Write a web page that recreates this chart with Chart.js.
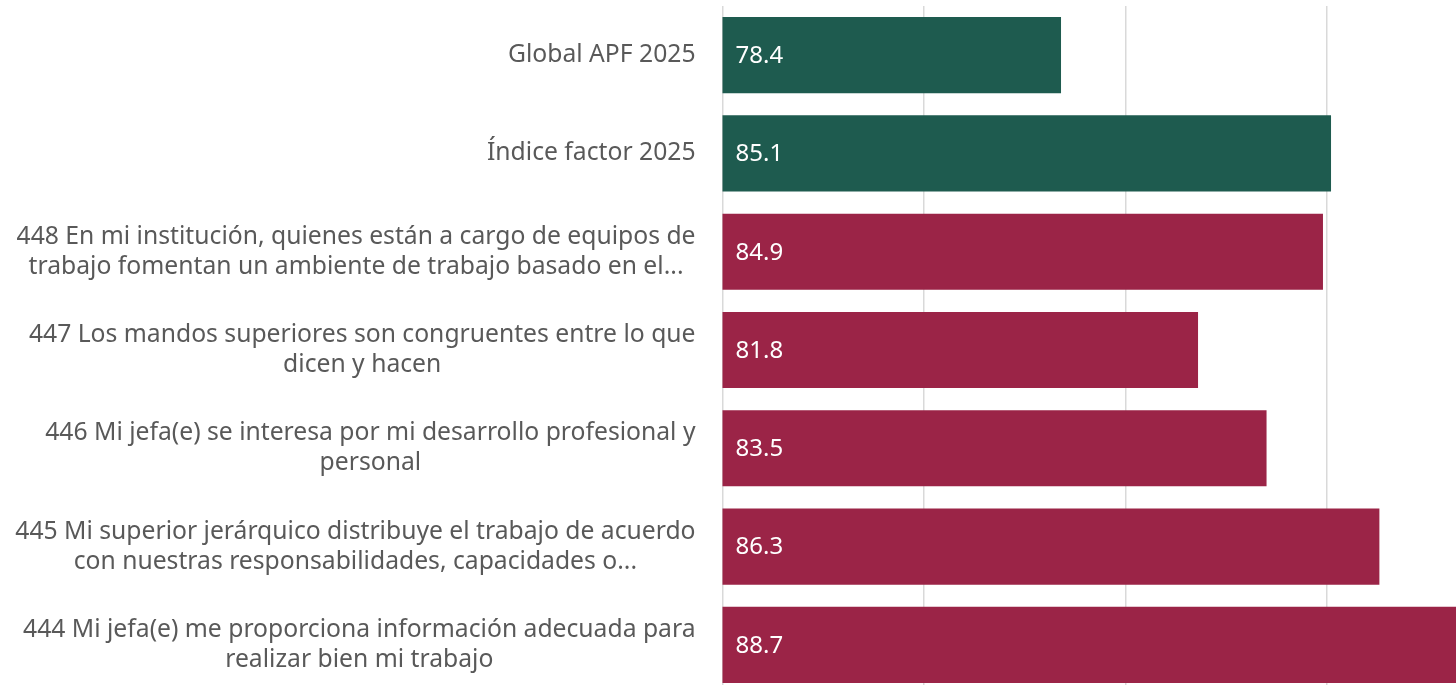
<!DOCTYPE html>
<html>
<head>
<meta charset="utf-8">
<script src="https://cdn.jsdelivr.net/npm/chart.js@4"></script>
<style>
html, body { margin: 0; padding: 0; background: #fff; overflow: hidden; }
canvas { display: block; }
</style>
</head>
<body>
<canvas id="barChart" width="1540" height="700"></canvas>
<script>

// categories (top to bottom)
const categories = [
  ["Global APF 2025"],
  ["Índice factor 2025"],
  ["448 En mi institución, quienes están a cargo de equipos de", "trabajo fomentan un ambiente de trabajo basado en el..."],
  ["447 Los mandos superiores son congruentes entre lo que", "dicen y hacen"],
  ["446 Mi jefa(e) se interesa por mi desarrollo profesional y", "personal"],
  ["445 Mi superior jerárquico distribuye el trabajo de acuerdo", "con nuestras responsabilidades, capacidades o..."],
  ["444 Mi jefa(e) me proporciona información adecuada para", "realizar bien mi trabajo"]
]

// values
const values = [78.4, 85.1, 84.9, 81.8, 83.5, 86.3, 88.7]

// which bars are summary rows
const isSummary = [true, true, false, false, false, false, false]


const green = "#1e5b4f"
const maroon = "#9b2447"
const labelFont = "24.7px 'Noto Sans'"


// category labels: block right-aligned, lines centered inside the block
const categoryLabels = {
  id: "categoryLabels",
  afterDraw(chart){
    const ctx = chart.ctx
    const yScale = chart.scales.y
    const right = chart.chartArea.left - 27
    ctx.save()
    ctx.fillStyle = "#595959"
    ctx.font = labelFont
    ctx.textAlign = "center"
    ctx.textBaseline = "middle"
    categories.forEach((lines, i) => {
      const y = yScale.getPixelForTick(i)
      const widest = Math.max(...lines.map(l => ctx.measureText(l).width))
      const cx = right - widest / 2
      lines.forEach((line, j) => {
        ctx.fillText(line, cx, y + (j - (lines.length - 1) / 2) * 30)
      })
    })
    ctx.restore()
  }
}


// draw value inside each bar
const valueLabels = {
  id: "valueLabels",
  afterDatasetsDraw(chart){
    const ctx = chart.ctx
    const meta = chart.getDatasetMeta(0)
    ctx.save()
    ctx.fillStyle = "#ffffff"
    ctx.font = "24px 'Noto Sans'"
    ctx.textAlign = "left"
    ctx.textBaseline = "middle"
    meta.data.forEach((bar, i) => {
      ctx.fillText(values[i].toFixed(1), chart.chartArea.left + 13, bar.y + 1)
    })
    ctx.restore()
  }
}


const ctx = document.getElementById("barChart").getContext("2d")

new Chart(ctx,{

type:"bar",

data:{
  labels: categories,
  datasets:[{
    data: values,
    backgroundColor: isSummary.map(s => s ? green : maroon),
    barPercentage: 0.775,
    categoryPercentage: 1
  }]
},

options:{
  indexAxis: "y",
  responsive: false,
  animation: false,
  layout: {
    padding: { top: 6, bottom: 6, left: 0, right: 11.5 }
  },
  plugins: {
    legend: { display: false },
    tooltip: { enabled: false }
  },
  scales: {
    x: {
      min: 70,
      max: 90,
      ticks: { display: false, stepSize: 5 },
      grid: { color: "#d9d9d9", lineWidth: 1.5, drawTicks: false },
      border: { display: false }
    },
    y: {
      afterFit(scale){
        scale.width = 722.5
        scale.paddingTop = 0
        scale.paddingBottom = 0
      },
      ticks: { display: false },
      grid: { display: false, drawTicks: false },
      border: { display: false }
    }
  }
},

plugins: [categoryLabels, valueLabels]

})

</script>
</body>
</html>
